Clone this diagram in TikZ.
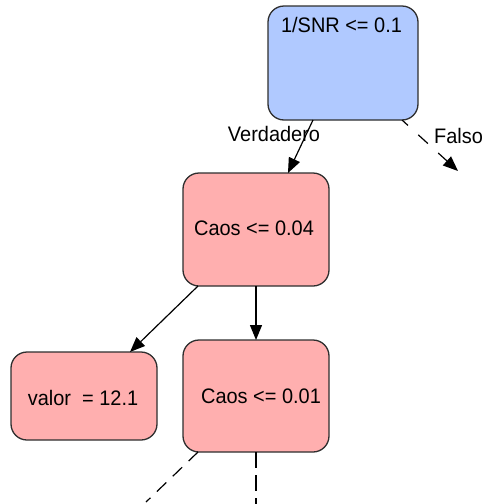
\documentclass[tikz,border=0pt]{standalone}
\usepackage{fontspec}
\setmainfont{Liberation Sans}[FakeStretch=0.95]
\usetikzlibrary{arrows.meta}
\definecolor{splitblue}{HTML}{B0C9FF}
\definecolor{leafpink}{HTML}{FFAFAF}
\definecolor{rim}{HTML}{2E2E2E}
\tikzset{
  treebox/.style={draw=rim, line width=1.3pt, rounded corners=16pt, fill=leafpink, inner sep=0pt},
  boxtxt/.style={anchor=base, inner sep=0pt},
  tip/.style={-{Triangle[length=15pt,width=12pt]}},
  edge/.style={line width=1.2pt, tip},
  dashedge/.style={line width=1.2pt},
  lbl/.style={anchor=base, inner sep=0pt}
}
\begin{document}
\begin{tikzpicture}[x=1pt,y=-1pt,font=\fontsize{21}{24}\selectfont]
\useasboundingbox (0,0) rectangle (482,504);
% tree nodes (boxes drawn by corners, text placed on its baseline)
\draw[treebox, fill=splitblue] (268,6) rectangle (418,120);
\node[boxtxt] (root) at (341.5,32) {1/SNR <= 0.1};
\draw[treebox] (183,173) rectangle (329,286);
\node[boxtxt] (c04) at (254,235) {Caos <= 0.04};
\draw[treebox] (11,352) rectangle (157,440);
\node[boxtxt] (leaf) at (83,405) {valor\ \ = 12.1};
\draw[treebox] (183,340) rectangle (329,452);
\node[boxtxt] (c01) at (261,403) {Caos <= 0.01};
% attachment points on the box borders
\coordinate (rootL) at (313,120);
\coordinate (rootR) at (402,120);
\coordinate (c04top) at (288,173);
\coordinate (c04L) at (198,286);
\coordinate (c04B) at (256,286);
\coordinate (leafT) at (130,352);
\coordinate (c01T) at (256,340);
\coordinate (c01L) at (198,452);
\coordinate (c01B) at (256,452);
% free ends
\coordinate (fend) at (458,171);
\coordinate (lend) at (146,502);
\coordinate (dend) at (256,504);
% branch labels
\node[lbl] (vtxt) at (274,141.5) {Verdadero};
\node[lbl, anchor=base west] (ftxt) at (434,143) {Falso};
% connectors
\draw[edge] (rootL) -- (c04top);
\draw[edge, dash pattern=on 8pt off 14pt on 13pt off 14pt on 60pt] (rootR) -- (fend);
\draw[edge] (c04L) -- (leafT);
\draw[edge] (c04B) -- (c01T);
\draw[dashedge, dash pattern=on 13pt off 9pt] (c01L) -- (lend);
\draw[dashedge, dash pattern=on 16pt off 7pt] (c01B) -- (dend);
\end{tikzpicture}
\end{document}
